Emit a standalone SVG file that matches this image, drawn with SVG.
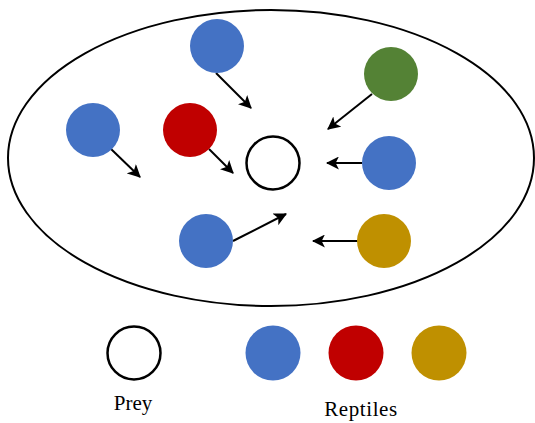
<svg xmlns="http://www.w3.org/2000/svg" width="535" height="423" viewBox="0 0 535 423">
<defs>
<style>
.blue{fill:#4472C4}
.red{fill:#C00000}
.gold{fill:#BF9000}
.green{fill:#548235}
.prey{fill:#fff;stroke:#000;stroke-width:2.5}
.arr{stroke:#000;stroke-width:2;fill:none;marker-end:url(#ah)}
.lbl{font-family:"Liberation Serif","Times New Roman",serif;font-size:21px;fill:#000}
</style>
<marker id="ah" viewBox="0 0 12 12" refX="11" refY="6" markerWidth="6.5" markerHeight="6.5" orient="auto" markerUnits="strokeWidth">
<path d="M0,0 L12,6 L0,12 L3,6 Z" fill="#000"/>
</marker>
</defs>
<ellipse cx="271" cy="158" rx="263" ry="148" fill="none" stroke="#000" stroke-width="2"/>
<g id="connectors">
<line class="arr" x1="216" y1="73" x2="251" y2="108"/>
<line class="arr" x1="372" y1="94" x2="328" y2="129"/>
<line class="arr" x1="111" y1="149" x2="140" y2="177"/>
<line class="arr" x1="209" y1="149" x2="233" y2="173"/>
<line class="arr" x1="362" y1="163" x2="327" y2="163"/>
<line class="arr" x1="233" y1="241" x2="286" y2="214"/>
<line class="arr" x1="358" y1="241" x2="313" y2="241"/>
</g>
<g id="top-blue"><circle class="blue" cx="217" cy="46" r="27"/></g>
<g id="green"><circle class="green" cx="391" cy="74" r="27"/></g>
<g id="left-blue"><circle class="blue" cx="93" cy="130" r="27"/></g>
<g id="red"><circle class="red" cx="190" cy="130" r="27"/></g>
<g id="prey-center"><circle class="prey" cx="273" cy="163" r="26.5"/></g>
<g id="right-blue"><circle class="blue" cx="389" cy="163" r="27"/></g>
<g id="bottom-blue"><circle class="blue" cx="206" cy="241" r="27"/></g>
<g id="gold"><circle class="gold" cx="384" cy="241" r="27"/></g>
<g id="legend-prey">
<circle class="prey" cx="134" cy="353" r="26.5"/>
<text class="lbl" x="133" y="410" text-anchor="middle">Prey</text>
</g>
<g id="legend-reptiles">
<circle class="blue" cx="273" cy="353" r="27.5"/>
<circle class="red" cx="356" cy="353" r="27.5"/>
<circle class="gold" cx="439" cy="353" r="27.5"/>
<text class="lbl" x="361" y="416" text-anchor="middle" letter-spacing="0.6">Reptiles</text>
</g>
</svg>
